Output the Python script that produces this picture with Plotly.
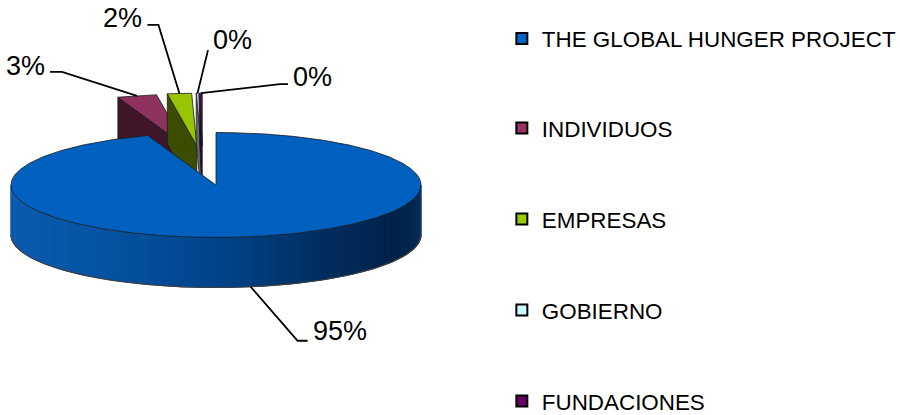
import numpy as np
import plotly.graph_objects as go

# ---------------- data ----------------
categories = ["THE GLOBAL HUNGER PROJECT", "INDIVIDUOS", "EMPRESAS", "GOBIERNO", "FUNDACIONES"]
values = [94.6, 3.1, 1.9, 0.2, 0.2]

# ---------------- style ----------------
top_colors = ["#0060C0", "#8E3360", "#99C400", "#B8D8D8", "#660066"]
side_colors = ["#0050A0", "#3E1529", "#3C4D00", "#5A7070", "#330033"]
legend_colors = ["#0066CC", "#993366", "#99CC00", "#CCFFFF", "#660066"]
explode = [0.0, 0.75, 0.75, 0.75, 0.75]

# projection of the 3-D pie (pixel space)
CX, CY, RX, RY, DEPTH = 216, 185, 205, 52.5, 50
KX, SHIFT_X = 0.45, -0.065          # horizontal handling of exploded slices

# label leader offsets: (elbow dx, elbow dy, horizontal tail dx, text dy)
label_offsets = [(47, 54, 10, -10), (-75, -24, -12, -6), (-21, -68.5, -11, -7),
                 (10.5, -43, 0, -10), (79, -9, 8, -7)]

# legend item vertical centres (pixels from top)
legend_y_px = [39, 128.5, 219.5, 310.5, 401.5]

LABEL_FONT = dict(family="Liberation Sans, Arial, sans-serif", size=27, color="black")
LEGEND_FONT = dict(family="Liberation Sans, Arial, sans-serif", size=22.4, color="black")

total = sum(values)
fig = go.Figure()


def pt(t, ox, oy, r=1.0, dz=0.0):
    a = np.radians(t)
    return CX + RX * (ox + r * np.cos(a)), CY - RY * (oy + r * np.sin(a)) + dz


def poly(xs, ys, fill, line_color="#1a1a1a", lw=0.8):
    fig.add_trace(go.Scatter(x=list(xs) + [xs[0]], y=list(ys) + [ys[0]], fill="toself",
                             fillcolor=fill, mode="lines",
                             line=dict(color=line_color, width=lw),
                             hoverinfo="skip", showlegend=False))


# wall gradient (by angle on the front half)
stops = [(180, (14, 92, 178)), (235, (6, 84, 165)), (270, (0, 68, 138)),
         (300, (0, 46, 96)), (330, (0, 33, 72)), (352, (6, 42, 84)), (360, (20, 62, 112))]


def wall_color(t):
    t = t % 360
    if t < 180:
        t = 180
    for (a0, c0), (a1, c1) in zip(stops[:-1], stops[1:]):
        if a0 <= t <= a1:
            f = (t - a0) / (a1 - a0)
            c = [int(round(c0[k] + f * (c1[k] - c0[k]))) for k in range(3)]
            return "rgb(%d,%d,%d)" % tuple(c)
    return "rgb(%d,%d,%d)" % stops[-1][1]


# slice angles: start at 12 o'clock, clockwise
slices = []
cum = 0.0
for i, v in enumerate(values):
    a_hi = 90 - cum / total * 360
    a_lo = a_hi - v / total * 360
    cum += v
    mid = (a_lo + a_hi) / 2
    e = explode[i]
    if e > 0:
        ox = e * KX * np.cos(np.radians(mid)) + SHIFT_X
        oy = e * np.sin(np.radians(mid))
    else:
        ox = oy = 0.0
    slices.append(dict(i=i, lo=a_lo, hi=a_hi, mid=mid, ox=ox, oy=oy))

# draw order: exploded (back) slices first, left to right; big slice last
order = [s for s in slices if explode[s["i"]] > 0] + [s for s in slices if explode[s["i"]] == 0]

for s in order:
    i, lo, hi, ox, oy = s["i"], s["lo"], s["hi"], s["ox"], s["oy"]
    # cut faces
    for ang, vis in ((lo, np.cos(np.radians(lo)) > 1e-9), (hi, np.cos(np.radians(hi)) < -1e-9)):
        if vis:
            ax_, ay_ = pt(0, ox, oy, r=0)
            bx, by = pt(ang, ox, oy)
            xs = [ax_, bx, bx, ax_]
            ys = [ay_, by, by + DEPTH, ay_ + DEPTH]
            poly(xs, ys, side_colors[i])
    # outer wall (front half only)
    for k in range(-2, 2):
        w0, w1 = max(lo, 180 + 360 * k), min(hi, 360 + 360 * k)
        if w1 - w0 > 1e-6:
            n = max(2, int((w1 - w0) / 2.5))
            edges = np.linspace(w0, w1, n + 1)
            for a0, a1 in zip(edges[:-1], edges[1:]):
                ts = np.linspace(a0, a1, 4)
                tx, ty = pt(ts, ox, oy)
                col = wall_color((a0 + a1) / 2) if i == 0 else side_colors[i]
                xs = list(tx) + list(tx[::-1])
                ys = list(ty) + list((ty + DEPTH)[::-1])
                poly(xs, ys, col, line_color=col, lw=1)
            ts = np.linspace(w0, w1, 200)
            bxs, bys = pt(ts, ox, oy, dz=DEPTH)
            fig.add_trace(go.Scatter(x=bxs, y=bys, mode="lines",
                                     line=dict(color="#404040", width=1.2),
                                     hoverinfo="skip", showlegend=False))
    # top face
    ts = np.linspace(lo, hi, max(3, int((hi - lo) * 2)))
    tx, ty = pt(ts, ox, oy)
    ax_, ay_ = pt(0, ox, oy, r=0)
    poly([ax_] + list(tx), [ay_] + list(ty), top_colors[i])

# percentage labels with leader lines
for s in slices:
    i = s["i"]
    pct = "%d%%" % round(values[i] / total * 100)
    if explode[i] == 0:
        x0, y0 = pt(s["mid"], s["ox"], s["oy"], dz=DEPTH)
    else:
        x0, y0 = pt(s["mid"], s["ox"], s["oy"])
    dx1, dy1, dx2, tdy = label_offsets[i]
    x1, y1 = x0 + dx1, y0 + dy1
    x2 = x1 + dx2
    fig.add_trace(go.Scatter(x=[x0, x1, x2], y=[y0, y1, y1], mode="lines",
                             line=dict(color="black", width=1.8),
                             hoverinfo="skip", showlegend=False))
    right = (x2 - x0) > 0
    fig.add_annotation(x=x2 + (3 if right else -3), y=y1 + tdy, text=pct, showarrow=False,
                       xanchor="left" if right else "right", yanchor="middle",
                       font=LABEL_FONT)

# legend entries: one legend per entry so the wide spacing can be matched
legend_layout = {}
for k, (cat, col) in enumerate(zip(categories, legend_colors)):
    lname = "legend" if k == 0 else "legend%d" % (k + 1)
    fig.add_trace(go.Scatter(x=[None], y=[None], mode="markers", name=cat, legend=lname,
                             marker=dict(symbol="square", size=11, color=col,
                                         line=dict(color="black", width=2))))
    legend_layout[lname] = dict(x=0.5576, y=1 - legend_y_px[k] / 415,
                                xanchor="left", yanchor="middle",
                                font=LEGEND_FONT, bgcolor="rgba(0,0,0,0)",
                                itemsizing="trace")

fig.update_layout(
    width=900, height=415,
    margin=dict(l=0, r=0, t=0, b=0, autoexpand=False),
    paper_bgcolor="white", plot_bgcolor="white",
    xaxis=dict(range=[0, 900], visible=False, fixedrange=True),
    yaxis=dict(range=[415, 0], visible=False, fixedrange=True),
    showlegend=True,
    **legend_layout,
)

fig.write_html("out.html", config={"displayModeBar": False})

# remove the browser's default page margin so the figure sits at the window origin
with open("out.html", encoding="utf-8") as f:
    html = f.read()
html = html.replace("<head>", "<head><style>html,body{margin:0;padding:0;overflow:hidden;}</style>", 1)
with open("out.html", "w", encoding="utf-8") as f:
    f.write(html)
